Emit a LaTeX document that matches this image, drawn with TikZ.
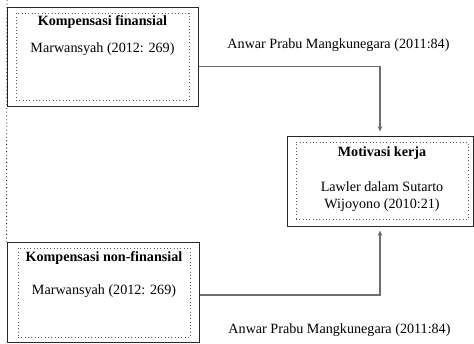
\documentclass[tikz,border=0pt]{standalone}
\usepackage{fontspec}
\setmainfont{Liberation Serif}
\usetikzlibrary{arrows.meta}

\begin{document}
\begin{tikzpicture}[x=0.75pt,y=0.75pt,yscale=-1,xscale=1,
  outerbox/.style={draw={rgb,255:red,40;green,40;blue,40}, line width=0.75pt, inner sep=0pt},
  innerbox/.style={draw={rgb,255:red,90;green,90;blue,90}, dotted, line width=0.5pt, inner sep=0pt},
  txt/.style={inner sep=0.75pt, font=\fontsize{10.6}{12}\selectfont},
  conn/.style={draw={rgb,255:red,110;green,110;blue,110}, line width=0.8pt, -{Stealth[length=4pt,width=3.5pt]}, shorten >=3pt}]
\useasboundingbox (0,0) rectangle (474,343);

%Box: Kompensasi finansial
\node [outerbox, minimum width=143.25pt, minimum height=74.25pt] (kf) at (102.5,56.5) {};
\node [innerbox, minimum width=129.75pt, minimum height=65.25pt] (kfin) at (102.5,56.5) {};
\node [txt, font=\fontsize{10.6}{12}\selectfont\bfseries] (kftitle) at (102.5,22) {Kompensasi finansial};
\node [txt] (kfref) at (102.5,49) {Marwansyah (2012: 269)};

%Box: Motivasi kerja
\node [outerbox, minimum width=139.5pt, minimum height=67.5pt] (mk) at (380,181) {};
\node [innerbox, minimum width=129pt, minimum height=57.75pt] (mkin) at (382,180.5) {};
\node [txt, font=\fontsize{10.6}{12}\selectfont\bfseries] (mktitle) at (382,153) {Motivasi kerja};
\node [txt] (mkref1) at (382,187) {Lawler dalam Sutarto};
\node [txt] (mkref2) at (382,205) {Wijoyono (2010:21)};

%Box: Kompensasi non-finansial
\node [outerbox, minimum width=144pt, minimum height=75pt] (nkf) at (103,292) {};
\node [innerbox, minimum width=129pt, minimum height=66.75pt] (nkfin) at (104,292.5) {};
\node [txt, font=\fontsize{10.6}{12}\selectfont\bfseries] (nkftitle) at (104,258) {Kompensasi non-finansial};
\node [txt] (nkfref) at (104,291) {Marwansyah (2012: 269)};

% Text Node
\node [txt] (lbltop) at (338.5,45) {Anwar Prabu Mangkunegara (2011:84)};
% Text Node
\node [txt] (lblbot) at (339.5,330) {Anwar Prabu Mangkunegara (2011:84)};

%Connectors
\draw [conn] (kf.east) ++(0,10) -| (mk.north);
\draw [conn] (nkf.east) ++(0,3) -| (mk.south);
\coordinate (topleft) at (7,0);
\draw [innerbox, draw={rgb,255:red,30;green,30;blue,30}, line width=0.7pt] (topleft) -- (nkf.north west);

\end{tikzpicture}
\end{document}
